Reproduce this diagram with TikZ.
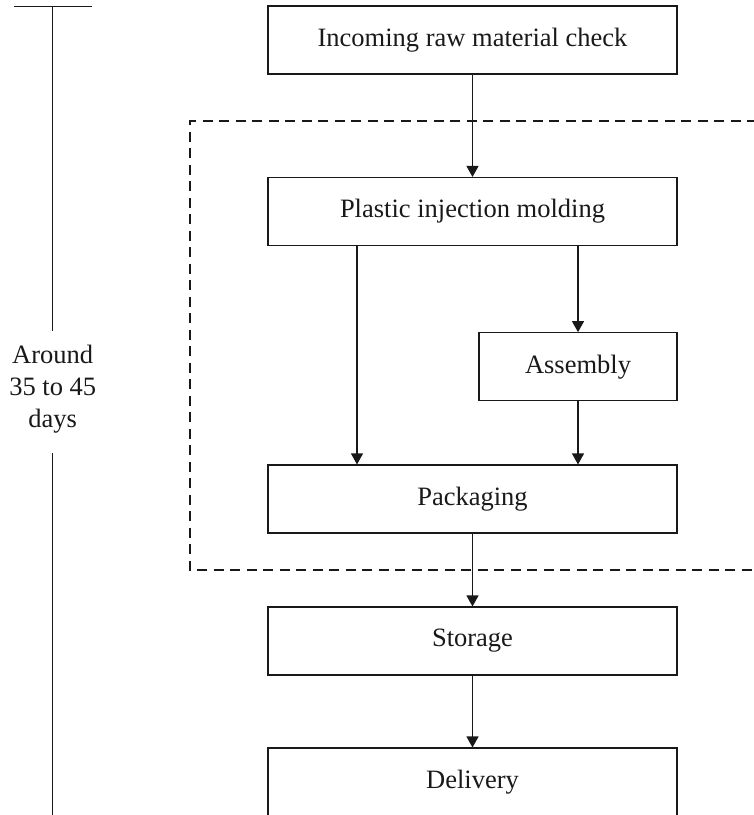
\documentclass[tikz,border=0pt]{standalone}
\usepackage{fontspec}
\setmainfont{Liberation Serif}
\usetikzlibrary{arrows.meta}

\begin{document}
\begin{tikzpicture}[
  x=1pt, y=-1pt,
  line width=1.1pt,
  every node/.style={font=\fontsize{26.5}{32}\selectfont, text=black!90},
  stepbox/.style={draw=black!90, rectangle, minimum width=409pt, minimum height=68pt, inner sep=0pt},
  smallbox/.style={draw=black!90, rectangle, minimum width=198pt, minimum height=68pt, inner sep=0pt},
  arr/.style={draw=black!90, -{Triangle[width=12pt,length=11pt]}},
  plain/.style={draw=black!90},
  grouping/.style={draw=black!90, dash pattern=on 10pt off 6.5pt}
]
% canvas
\useasboundingbox (0,0) rectangle (754,815);
\clip (0,0) rectangle (754,815);

% process steps
\node[stepbox]  (check)    at (472.5, 40)    {Incoming raw material check};
\node[stepbox]  (molding)  at (472.5, 211.5) {Plastic injection molding};
\node[smallbox] (assembly) at (578, 366.7)   {Assembly};
\node[stepbox]  (packing)  at (472.5, 499)   {Packaging};
\node[stepbox]  (storage)  at (472.5, 641)   {Storage};
\node[stepbox]  (delivery) at (472.5, 782)   {Delivery};

% column of the direct molding-to-packaging path
\coordinate (direct) at (357, 0);

% flow arrows
\draw[arr] (check.south) -- (molding.north);
\draw[arr] (molding.south -| direct) -- (packing.north -| direct);
\draw[arr] (molding.south -| assembly) -- (assembly.north);
\draw[arr] (assembly.south) -- (packing.north -| assembly);
\draw[arr] (packing.south) -- (storage.north);
\draw[arr] (storage.south) -- (delivery.north);

% production group (open on the right)
\coordinate (gTR) at (790, 121);
\coordinate (gTL) at (190, 121);
\coordinate (gBL) at (190, 570);
\coordinate (gBR) at (790, 570);
\draw[grouping] (gTR) -- (gTL) -- (gBL) -- (gBR);

% lead time scale
\coordinate (tickL) at (14, 6.3);
\coordinate (tickR) at (92, 6.3);
\coordinate (tickM) at (52.7, 6.3);
\coordinate (gapTop) at (52.7, 331);
\coordinate (gapBot) at (52.7, 453);
\coordinate (scaleEnd) at (52.7, 830);
\node[align=center] (lead) at (52.7, 389) {Around\\35 to 45\\days};
\draw[plain] (tickL) -- (tickR);
\draw[plain] (tickM) -- (gapTop);
\draw[plain] (gapBot) -- (scaleEnd);
\end{tikzpicture}
\end{document}
